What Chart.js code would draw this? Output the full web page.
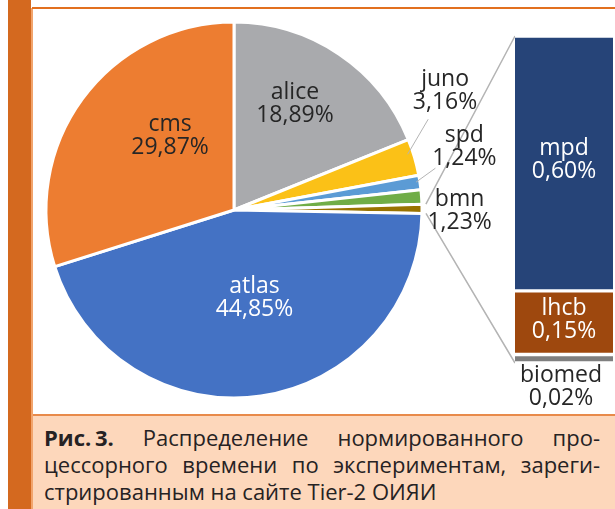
<!DOCTYPE html>
<html>
<head>
<meta charset="utf-8">
<script src="https://cdn.jsdelivr.net/npm/chart.js@4"></script>
<style>
  body { margin: 0; width: 615px; height: 509px; background: #fff; position: relative; overflow: hidden; font-family: 'Open Sans', sans-serif; }
  .abs { position: absolute; }
  #stripe { left: 8px; top: 0; width: 23px; height: 509px; background: #d4691f; }
  #stripeEdge { left: 31px; top: 8px; width: 2px; height: 501px; background: #f2a46c; }
  #topLine { left: 32px; top: 7px; width: 583px; height: 2px; background: #e2701f; }
  #captionBox { left: 33px; top: 414px; width: 582px; height: 95px; background: #fdd7bb; border-top: 2px solid #e88a4a; box-sizing: border-box; }
  #caption { left: 44px; top: 424px; width: 556px; font-size: 22px; line-height: 27px; color: #262223; }
  #caption div { white-space: nowrap; }
  #caption .j { text-align: justify; text-align-last: justify; white-space: normal; }
  #caption .fig { display: inline-block; font-weight: bold; }
  #pieChart { left: 33px; top: 9px; }
  #barChart { left: 505px; top: 30px; }
</style>
</head>
<body>
<div id="stripe" class="abs"></div>
<div id="stripeEdge" class="abs"></div>
<div id="topLine" class="abs"></div>
<div id="captionBox" class="abs"></div>
<div id="caption" class="abs">
  <div class="j"><span class="fig">Рис.&#8201;3.</span> Распределение нормированного про-</div>
  <div class="j">цессорного времени по экспериментам, зареги-</div>
  <div>стрированным на сайте Tier-2 ОИЯИ</div>
</div>
<canvas id="pieChart" class="abs" width="582" height="405"></canvas>
<canvas id="barChart" class="abs" width="110" height="385"></canvas>
<script>
// pie: clockwise from the top, "other" = sum of the bar part
const pieLabels = ['alice', 'juno', 'spd', 'bmn', 'other', 'atlas', 'cms'];
const pieValues = [18.89, 3.16, 1.24, 1.23, 0.77, 44.85, 29.87];
const pieColors = ['#a9aaad', '#fbc117', '#5b9bd5', '#70ad47', '#997300', '#4472c4', '#ed7d31'];

// bar of pie, bottom to top
const barLabels = ['biomed', 'lhcb', 'mpd'];
const barValues = [0.02, 0.15, 0.60];
const barColors = ['#7f7f7f', '#9e480e', '#264478'];

const fmt = v => v.toFixed(2).replace('.', ',') + '%';
const FONT = '23px "Open Sans"';
const LINE = 23;

function drawLabel(ctx, x, y, lines, color) {
	ctx.save();
	ctx.font = FONT;
	ctx.fillStyle = color;
	ctx.textAlign = 'center';
	ctx.textBaseline = 'middle';
	lines.forEach((t, i) => ctx.fillText(t, x, y + (i - (lines.length - 1) / 2) * LINE));
	ctx.restore();
}

const barLabelPlugin = {
	id: 'barLabels',
	afterDatasetsDraw(chart) {
		const ctx = chart.ctx;
		chart.data.datasets.forEach((ds, i) => {
			const el = chart.getDatasetMeta(i).data[0];
			const lines = [ds.label, fmt(ds.data[0])];
			if (ds.label === 'biomed') {
				drawLabel(ctx, el.x - 3, el.base + 24, lines, '#262626');
			} else {
				drawLabel(ctx, el.x, (el.y + el.base) / 2 - 3, lines, '#ffffff');
			}
		});
	}
};

const barChart = new Chart(document.getElementById('barChart'), {
	type: 'bar',
	data: {
		labels: ['other'],
		datasets: barLabels.map((l, i) => ({
			label: l,
			data: [barValues[i]],
			backgroundColor: barColors[i],
			borderColor: '#ffffff',
			borderWidth: { top: 2, bottom: 2, left: 0, right: 0 },
			borderSkipped: false,
			barPercentage: 1,
			categoryPercentage: 1,
		})),
	},
	options: {
		responsive: false,
		animation: false,
		layout: { padding: { left: 10, right: 2, top: 6, bottom: 52 } },
		plugins: { legend: { display: false }, tooltip: { enabled: false } },
		scales: {
			x: { display: false, stacked: true },
			y: { display: false, stacked: true, min: 0, max: 0.77 },
		},
	},
	plugins: [barLabelPlugin],
});

// where each pie label sits: t = position along the slice angle, r = fraction of radius
const pieLabelPos = {
	alice: { t: 0.44, r: 0.65, color: '#262626' },
	juno: { t: -0.66, r: 1.29, color: '#262626', leader: [0.37, 0.97, 0.55] },
	spd: { t: -1.03, r: 1.27, color: '#262626', leader: [0.43, 0.98, 0.4] },
	bmn: { t: 1.45, r: 1.2, color: '#262626' },
	atlas: { t: 0.47, r: 0.48, color: '#ffffff' },
	cms: { t: 0.62, r: 0.52, color: '#262626' },
};

const pieLabelPlugin = {
	id: 'pieLabels',
	afterDatasetsDraw(chart) {
		const ctx = chart.ctx;
		const arcs = chart.getDatasetMeta(0).data;
		const at = (el, t, r) => {
			const a = el.startAngle + t * (el.endAngle - el.startAngle);
			return [el.x + Math.cos(a) * r * el.outerRadius, el.y + Math.sin(a) * r * el.outerRadius];
		};

		// connector lines from the "other" slice to the bar
		const other = arcs[pieLabels.indexOf('other')];
		const pr = chart.canvas.getBoundingClientRect();
		const br = barChart.canvas.getBoundingClientRect();
		const dx = br.left - pr.left, dy = br.top - pr.top;
		const top = barChart.getDatasetMeta(barLabels.length - 1).data[0];
		const bottom = barChart.getDatasetMeta(0).data[0];
		const left = top.x - top.width / 2 + dx;
		const off = (other.outerRadius + 4) / other.outerRadius;
		const p1 = at(other, 0, off), p2 = at(other, 1, off);
		ctx.save();
		ctx.strokeStyle = '#b4b4b4';
		ctx.lineWidth = 1.5;
		ctx.beginPath();
		ctx.moveTo(p1[0], p1[1]);
		ctx.lineTo(left, top.y + dy);
		ctx.moveTo(p2[0], p2[1]);
		ctx.lineTo(left, bottom.base + dy);
		ctx.stroke();
		ctx.restore();

		arcs.forEach((el, i) => {
			const pos = pieLabelPos[pieLabels[i]];
			if (!pos) return;
			const [x, y] = at(el, pos.t, pos.r);
			if (pos.leader) {
				const [sx, sy] = at(el, pos.leader[0], pos.leader[1]);
				const f = pos.leader[2];
				ctx.save();
				ctx.strokeStyle = '#b4b4b4';
				ctx.lineWidth = 1;
				ctx.beginPath();
				ctx.moveTo(sx, sy);
				ctx.lineTo(sx + (x - sx) * f, sy + (y - sy) * f);
				ctx.stroke();
				ctx.restore();
			}
			drawLabel(ctx, x, y, [pieLabels[i], fmt(pieValues[i])], pos.color);
		});
	}
};

new Chart(document.getElementById('pieChart'), {
	type: 'pie',
	data: {
		labels: pieLabels,
		datasets: [{
			data: pieValues,
			backgroundColor: pieColors,
			borderColor: '#ffffff',
			borderWidth: 3,
		}],
	},
	options: {
		responsive: false,
		animation: false,
		layout: { padding: { left: 11.5, top: 11.5, right: 191.5, bottom: 14.5 } },
		plugins: { legend: { display: false }, tooltip: { enabled: false } },
	},
	plugins: [pieLabelPlugin],
});
</script>
</body>
</html>
